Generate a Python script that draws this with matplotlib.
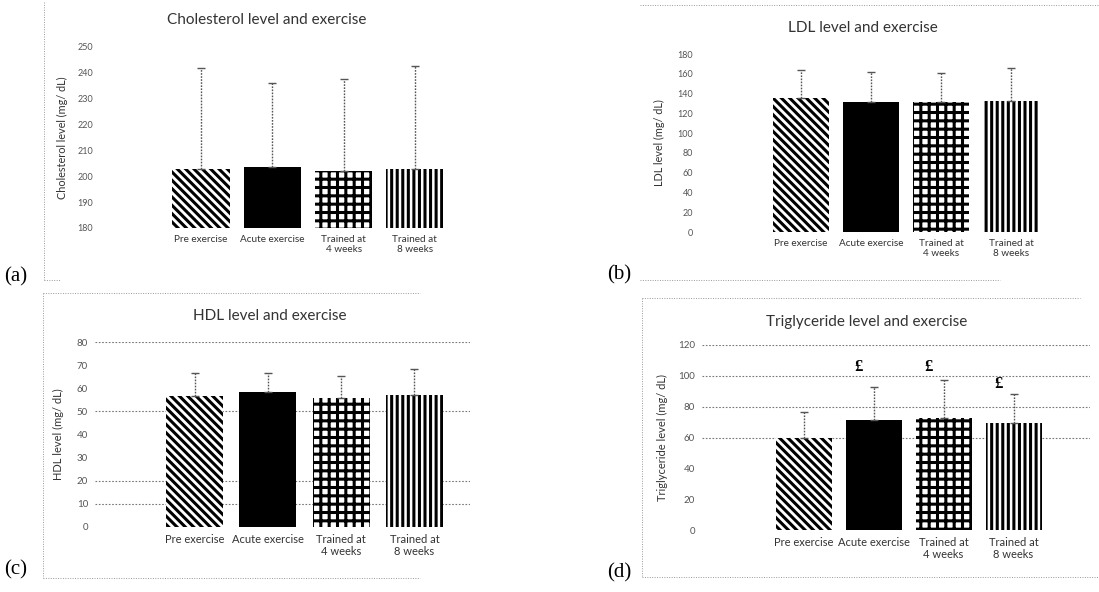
import matplotlib
matplotlib.use("Agg")
import matplotlib.pyplot as plt
from matplotlib.lines import Line2D

plt.rcParams['hatch.linewidth'] = 2.2
plt.rcParams['font.family'] = ['Lato', 'DejaVu Sans']

# ---------------- data ----------------
categories = ["Pre exercise", "Acute exercise", "Trained at\n4 weeks", "Trained at\n8 weeks"]

chol_mean = [203, 203.5, 202, 203]
chol_err = [39, 32.5, 35.5, 39.5]
chol_ticks = [180, 190, 200, 210, 220, 230, 240, 250]

ldl_mean = [136, 131, 131, 132]
ldl_err = [28, 31, 30, 34]
ldl_ticks = [0, 20, 40, 60, 80, 100, 120, 140, 160, 180]

hdl_mean = [56.5, 58.5, 56, 57]
hdl_err = [10, 8, 9.5, 11.5]
hdl_ticks = [0, 10, 20, 30, 40, 50, 60, 70, 80]
hdl_grid = [10, 20, 50, 80]

tg_mean = [60, 71.5, 72.5, 69.5]
tg_err = [16.5, 21.5, 24.5, 19]
tg_ticks = [0, 20, 40, 60, 80, 100, 120]
tg_grid = [60, 80, 100, 120]
tg_sig = ["", "£", "£", "£"]
tg_sig_y = [None, 106, 106, 95]

titles = ["Cholesterol level and exercise", "LDL level and exercise",
          "HDL level and exercise", "Triglyceride level and exercise"]
ylabels = ["Cholesterol level (mg/ dL)", "LDL level (mg/ dL)",
           "HDL level (mg/ dL)", "Triglyceride level (mg/ dL)"]
panel_letters = ["(a)", "(b)", "(c)", "(d)"]

# ---------------- styling ----------------
W, H = 1099, 592
fig = plt.figure(figsize=(W / 100, H / 100), dpi=100)

bar_styles = [
    dict(facecolor='white', edgecolor='black', hatch='\\\\\\\\'),
    dict(facecolor='black', edgecolor='black', hatch=None),
    dict(facecolor='white', edgecolor='black', hatch='++'),
    dict(facecolor='white', edgecolor='black', hatch='|||'),
]
TICK_COL = '#555555'


def px_axes(left, right, top, bottom):
    return fig.add_axes([left / W, 1 - bottom / H, (right - left) / W, (bottom - top) / H])


def panel(means, errs, ticks, left, right, top, bottom, c0, step, width,
          title, title_xy, ylabel, ylabel_x, fs_tick, fs_x, fs_ylab, grid=None):
    ax = px_axes(left, right, top, bottom)
    xs = list(range(len(categories)))
    for i, (m, e) in enumerate(zip(means, errs)):
        st = bar_styles[i]
        ax.bar(xs[i], m - ticks[0], bottom=ticks[0], width=width,
               facecolor=st['facecolor'], edgecolor=st['edgecolor'],
               hatch=st['hatch'], linewidth=0, zorder=2)
        cont = ax.errorbar(xs[i], m, yerr=[[0], [e]], fmt='none', ecolor='#555555',
                           elinewidth=1.0, capsize=3, capthick=1.0, zorder=3)
        for lc in cont.lines[2]:
            lc.set_linestyle((0, (1.2, 1.0)))
    ax.set_xlim((left - c0) / step, (right - c0) / step)
    ax.set_ylim(ticks[0], ticks[-1])
    ax.set_yticks(ticks)
    ax.set_yticklabels([str(t) for t in ticks], fontsize=fs_tick, color=TICK_COL)
    ax.set_xticks(xs)
    ax.set_xticklabels(categories, fontsize=fs_x, color='#333333', linespacing=1.1)
    ax.tick_params(length=0, pad=5)
    for s in ax.spines.values():
        s.set_visible(False)
    if grid:
        for g in grid:
            ax.axhline(g, color='#777777', lw=0.8, ls=(0, (1.5, 1.5)), zorder=1)
    ax.set_ylabel(ylabel, fontsize=fs_ylab, color='#333333')
    ax.yaxis.set_label_coords((ylabel_x - left) / (right - left), 0.5)
    fig.text(title_xy[0] / W, 1 - title_xy[1] / H, title, ha='center', va='center',
             fontsize=11, color='#333333')
    return ax


ax_a = panel(chol_mean, chol_err, chol_ticks, 100, 470, 47, 228, 201, 71.3, 0.8,
             titles[0], (267, 20), ylabels[0], 68, 6.5, 7.2, 7.8)
ax_b = panel(ldl_mean, ldl_err, ldl_ticks, 700, 1060, 54, 232, 801, 70, 0.8,
             titles[1], (863, 28), ylabels[1], 665, 6.5, 7.2, 7.8)
ax_c = panel(hdl_mean, hdl_err, hdl_ticks, 95, 470, 342, 527, 194.5, 73.3, 0.78,
             titles[2], (270, 316), ylabels[2], 64, 7, 8, 8, grid=hdl_grid)
ax_d = panel(tg_mean, tg_err, tg_ticks, 702, 1090, 345, 530, 803.5, 70, 0.8,
             titles[3], (867, 322), ylabels[3], 668, 7, 8, 8, grid=tg_grid)

for i, (s, y) in enumerate(zip(tg_sig, tg_sig_y)):
    if s:
        ax_d.text(i - 0.22, y, s, ha='center', va='center', fontsize=12,
                  fontweight='bold', family=['Liberation Serif'], color='black')

# panel letters
letter_pos = [(4, 277), (607, 275), (4, 570), (607, 573)]
for (x, y), t in zip(letter_pos, panel_letters):
    fig.text(x / W, 1 - y / H, t, ha='left', va='center', fontsize=15,
             family=['Liberation Serif'], color='black')

# faint dotted panel borders
def fline(x0, y0, x1, y1):
    fig.add_artist(Line2D([x0 / W, x1 / W], [1 - y0 / H, 1 - y1 / H],
                          transform=fig.transFigure, color='#9a9a9a', lw=0.7,
                          ls=(0, (1, 1.5))))

fline(44, 2, 44, 280)
fline(44, 280, 60, 280)
fline(640, 5, 1099, 5)
fline(640, 280, 1000, 280)
fline(43, 293, 43, 578)
fline(43, 293, 420, 293)
fline(43, 578, 420, 578)
fline(642, 298, 642, 577)
fline(642, 298, 1080, 298)
fline(642, 577, 1099, 577)

fig.savefig("out.png", dpi=100)
